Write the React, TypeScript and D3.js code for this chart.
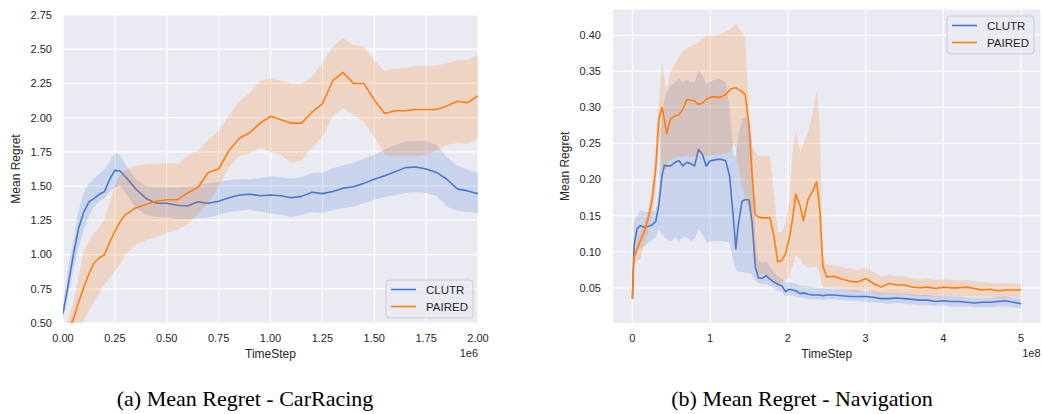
import * as d3 from "d3";

const CLUTR_COLOR = "#4878d0";
const PAIRED_COLOR = "#ff7f0e";
const BG = "#eaeaf2";
const INK = "#262626";
const SANS = "'Liberation Sans', Arial, sans-serif";
const SERIF = "'Liberation Serif', 'Times New Roman', serif";

// ---- (a) CarRacing, timestep in 1e6 ----
const carT = [0, 0.025, 0.05, 0.075, 0.1, 0.125, 0.15, 0.175, 0.2, 0.225, 0.25, 0.275, 0.3,
  0.35, 0.4, 0.45, 0.5, 0.55, 0.6, 0.65, 0.7, 0.75, 0.8, 0.85, 0.9, 0.95, 1.0, 1.05, 1.1, 1.15,
  1.2, 1.25, 1.3, 1.35, 1.4, 1.45, 1.5, 1.55, 1.6, 1.65, 1.7, 1.75, 1.8, 1.85, 1.9, 1.95, 2.0];

const carClutrMean = [0.57, 0.78, 1.0, 1.19, 1.31, 1.385, 1.41, 1.44, 1.46, 1.55, 1.615, 1.61, 1.57,
  1.48, 1.41, 1.375, 1.375, 1.36, 1.355, 1.385, 1.375, 1.39, 1.415, 1.435, 1.44, 1.43, 1.435, 1.43, 1.415, 1.425,
  1.455, 1.445, 1.46, 1.485, 1.495, 1.52, 1.55, 1.575, 1.605, 1.635, 1.64, 1.625, 1.6, 1.55, 1.48, 1.465, 1.445];
const carClutrLo = [0.53, 0.7, 0.89, 1.05, 1.18, 1.28, 1.35, 1.39, 1.41, 1.46, 1.49, 1.5, 1.45,
  1.34, 1.29, 1.275, 1.27, 1.26, 1.26, 1.265, 1.27, 1.29, 1.31, 1.32, 1.325, 1.315, 1.3, 1.29, 1.275, 1.29,
  1.31, 1.305, 1.325, 1.34, 1.35, 1.375, 1.4, 1.42, 1.435, 1.45, 1.455, 1.45, 1.43, 1.35, 1.32, 1.31, 1.3];
const carClutrHi = [0.62, 0.9, 1.1, 1.32, 1.45, 1.52, 1.56, 1.59, 1.62, 1.68, 1.74, 1.73, 1.66,
  1.55, 1.5, 1.49, 1.49, 1.49, 1.495, 1.51, 1.52, 1.53, 1.545, 1.55, 1.55, 1.56, 1.57, 1.565, 1.555, 1.565,
  1.595, 1.6, 1.63, 1.65, 1.67, 1.7, 1.73, 1.77, 1.8, 1.825, 1.83, 1.83, 1.8, 1.71, 1.65, 1.62, 1.595];

const carPairedMean = [0.38, 0.44, 0.53, 0.65, 0.76, 0.86, 0.94, 0.975, 1.0, 1.09, 1.17, 1.24, 1.29,
  1.34, 1.365, 1.39, 1.4, 1.4, 1.45, 1.49, 1.6, 1.625, 1.76, 1.85, 1.89, 1.96, 2.01, 1.985, 1.96, 1.96,
  2.04, 2.1, 2.27, 2.33, 2.25, 2.25, 2.13, 2.03, 2.05, 2.05, 2.06, 2.06, 2.06, 2.085, 2.12, 2.11, 2.16];
const carPairedLo = [0.3, 0.33, 0.4, 0.46, 0.52, 0.59, 0.66, 0.72, 0.78, 0.83, 0.88, 0.93, 1.0,
  1.07, 1.1, 1.13, 1.16, 1.18, 1.22, 1.3, 1.375, 1.5, 1.64, 1.72, 1.74, 1.78, 1.75, 1.73, 1.67, 1.69,
  1.78, 1.86, 2.01, 2.07, 2.02, 1.97, 1.86, 1.73, 1.72, 1.72, 1.72, 1.73, 1.76, 1.8, 1.815, 1.81, 1.85];
const carPairedHi = [0.45, 0.52, 0.65, 0.84, 1.03, 1.1, 1.16, 1.2, 1.25, 1.38, 1.51, 1.58, 1.62,
  1.65, 1.66, 1.665, 1.67, 1.66, 1.72, 1.76, 1.84, 1.9, 2.02, 2.12, 2.18, 2.27, 2.29, 2.27, 2.25, 2.25,
  2.3, 2.4, 2.52, 2.58, 2.53, 2.52, 2.42, 2.34, 2.36, 2.36, 2.38, 2.38, 2.38, 2.4, 2.42, 2.42, 2.465];

const carXTicks = [0, 0.25, 0.5, 0.75, 1.0, 1.25, 1.5, 1.75, 2.0];
const carYTicks = [0.5, 0.75, 1.0, 1.25, 1.5, 1.75, 2.0, 2.25, 2.5, 2.75];

// ---- (b) Navigation, timestep in 1e8 ----
const navT = [0, 0.02, 0.06, 0.1, 0.15, 0.2, 0.25, 0.3, 0.34, 0.38,
  0.41, 0.44, 0.49, 0.55, 0.6, 0.65, 0.7, 0.75, 0.8, 0.85,
  0.9, 0.95, 1.0, 1.05, 1.1, 1.15, 1.2, 1.25, 1.3, 1.33,
  1.36, 1.41, 1.45, 1.5, 1.54, 1.58, 1.62, 1.67, 1.72, 1.77,
  1.82, 1.87, 1.92, 1.97, 2.02, 2.06, 2.1, 2.16, 2.2, 2.26,
  2.32, 2.37, 2.41, 2.45, 2.5, 2.6, 2.7, 2.8, 2.9, 3.0,
  3.1, 3.2, 3.3, 3.4, 3.5, 3.6, 3.7, 3.8, 3.9, 4.0,
  4.1, 4.2, 4.3, 4.4, 4.5, 4.6, 4.7, 4.8, 4.9, 5.0];

const navClutrMean = [0.035, 0.108, 0.132, 0.136, 0.134, 0.135, 0.137, 0.142, 0.165, 0.205,
  0.22, 0.219, 0.219, 0.224, 0.226, 0.219, 0.224, 0.222, 0.219, 0.242,
  0.235, 0.219, 0.226, 0.227, 0.228, 0.228, 0.226, 0.205, 0.145, 0.104,
  0.136, 0.17, 0.172, 0.172, 0.14, 0.08, 0.064, 0.063, 0.067, 0.062,
  0.058, 0.055, 0.053, 0.045, 0.048, 0.047, 0.046, 0.042, 0.043, 0.041,
  0.04, 0.04, 0.04, 0.039, 0.04, 0.04, 0.039, 0.038, 0.038, 0.038,
  0.037, 0.035, 0.035, 0.036, 0.035, 0.034, 0.033, 0.033, 0.031, 0.032,
  0.031, 0.031, 0.03, 0.029, 0.03, 0.03, 0.031, 0.032, 0.03, 0.028];
const navClutrLo = [0.03, 0.08, 0.1, 0.105, 0.108, 0.112, 0.116, 0.12, 0.13, 0.125,
  0.12, 0.118, 0.114, 0.12, 0.115, 0.12, 0.12, 0.115, 0.118, 0.13,
  0.125, 0.113, 0.114, 0.115, 0.115, 0.115, 0.114, 0.113, 0.085, 0.076,
  0.072, 0.072, 0.071, 0.071, 0.068, 0.06, 0.057, 0.055, 0.055, 0.053,
  0.05, 0.047, 0.045, 0.038, 0.04, 0.039, 0.038, 0.036, 0.036, 0.035,
  0.034, 0.034, 0.034, 0.033, 0.034, 0.034, 0.033, 0.032, 0.032, 0.031,
  0.03, 0.029, 0.028, 0.029, 0.028, 0.027, 0.026, 0.026, 0.025, 0.025,
  0.024, 0.024, 0.024, 0.023, 0.023, 0.023, 0.024, 0.024, 0.023, 0.021];
const navClutrHi = [0.045, 0.14, 0.15, 0.157, 0.156, 0.155, 0.156, 0.157, 0.18, 0.29,
  0.31, 0.32, 0.33, 0.335, 0.34, 0.335, 0.338, 0.335, 0.335, 0.352,
  0.345, 0.332, 0.336, 0.338, 0.34, 0.338, 0.336, 0.3, 0.235, 0.232,
  0.26, 0.284, 0.286, 0.286, 0.25, 0.12, 0.088, 0.085, 0.087, 0.08,
  0.072, 0.066, 0.063, 0.057, 0.058, 0.057, 0.056, 0.053, 0.053, 0.052,
  0.051, 0.05, 0.05, 0.049, 0.049, 0.049, 0.048, 0.047, 0.046, 0.046,
  0.045, 0.043, 0.043, 0.043, 0.042, 0.041, 0.04, 0.04, 0.038, 0.039,
  0.038, 0.038, 0.037, 0.036, 0.036, 0.036, 0.037, 0.038, 0.036, 0.035];

const navPairedMean = [0.035, 0.093, 0.104, 0.115, 0.127, 0.145, 0.17, 0.215, 0.284, 0.3,
  0.284, 0.263, 0.284, 0.288, 0.29, 0.298, 0.311, 0.31, 0.309, 0.304,
  0.306, 0.311, 0.314, 0.315, 0.314, 0.315, 0.318, 0.324, 0.327, 0.327,
  0.325, 0.322, 0.318, 0.274, 0.205, 0.152, 0.148, 0.147, 0.147, 0.147,
  0.122, 0.086, 0.088, 0.097, 0.12, 0.145, 0.18, 0.163, 0.143, 0.173,
  0.184, 0.197, 0.16, 0.08, 0.065, 0.066, 0.062, 0.059, 0.058, 0.063,
  0.056, 0.051, 0.056, 0.054, 0.054, 0.051, 0.05, 0.051, 0.049, 0.051,
  0.05, 0.05, 0.051, 0.049, 0.047, 0.048, 0.046, 0.047, 0.047, 0.047];
const navPairedLo = [0.025, 0.08, 0.088, 0.09, 0.11, 0.125, 0.15, 0.185, 0.26, 0.217,
  0.205, 0.22, 0.228, 0.23, 0.232, 0.232, 0.233, 0.232, 0.232, 0.235,
  0.235, 0.233, 0.233, 0.234, 0.235, 0.235, 0.236, 0.238, 0.25, 0.245,
  0.22, 0.19, 0.175, 0.16, 0.12, 0.08, 0.07, 0.068, 0.068, 0.065,
  0.06, 0.056, 0.057, 0.06, 0.065, 0.08, 0.095, 0.09, 0.082, 0.078,
  0.078, 0.08, 0.07, 0.05, 0.05, 0.05, 0.048, 0.046, 0.044, 0.048,
  0.043, 0.04, 0.042, 0.041, 0.041, 0.039, 0.038, 0.039, 0.037, 0.039,
  0.038, 0.038, 0.039, 0.038, 0.037, 0.038, 0.036, 0.037, 0.037, 0.036];
const navPairedHi = [0.045, 0.1, 0.115, 0.127, 0.14, 0.155, 0.19, 0.25, 0.307, 0.364,
  0.34, 0.325, 0.35, 0.36, 0.37, 0.378, 0.382, 0.385, 0.387, 0.39,
  0.395, 0.4, 0.4, 0.399, 0.401, 0.402, 0.405, 0.408, 0.412, 0.416,
  0.41, 0.405, 0.395, 0.3, 0.246, 0.238, 0.233, 0.233, 0.233, 0.232,
  0.183, 0.127, 0.127, 0.14, 0.173, 0.238, 0.266, 0.238, 0.25, 0.266,
  0.293, 0.325, 0.274, 0.09, 0.082, 0.081, 0.079, 0.076, 0.075, 0.078,
  0.072, 0.066, 0.068, 0.066, 0.066, 0.063, 0.062, 0.063, 0.061, 0.062,
  0.061, 0.06, 0.061, 0.059, 0.058, 0.057, 0.056, 0.057, 0.056, 0.056];

const navXTicks = [0, 1, 2, 3, 4, 5];
const navYTicks = [0.05, 0.1, 0.15, 0.2, 0.25, 0.3, 0.35, 0.4];

type Series = { name: string; color: string; mean: number[]; lo: number[]; hi: number[] };
type Box = { left: number; top: number; right: number; bottom: number };

type PanelProps = {
  id: string;
  box: Box;
  t: number[];
  series: Series[];
  xDomain: [number, number];
  yDomain: [number, number];
  xTicks: number[];
  yTicks: number[];
  xFmt: (v: number) => string;
  yFmt: (v: number) => string;
  offset: string;
  yLabelX: number;
  tickGap: number;
  legend: { x: number; y: number };
};

function Legend({ x, y, series }: { x: number; y: number; series: Series[] }) {
  return (
    <g transform={`translate(${x},${y})`}>
      <rect width={87} height={38} rx={3} fill={BG} fillOpacity={0.8} stroke="#cccccc" strokeWidth={1} />
      {series.map((s, i) => (
        <g key={s.name} transform={`translate(0,${9.5 + i * 17})`}>
          <line x1={5} x2={30} y1={0} y2={0} stroke={s.color} strokeWidth={1.6} />
          <text x={40} y={0} dy="0.35em" fontFamily={SANS} fontSize={11.5} fill={INK}>{s.name}</text>
        </g>
      ))}
    </g>
  );
}

function Panel(p: PanelProps) {
  const { box } = p;
  const x = d3.scaleLinear().domain(p.xDomain).range([box.left, box.right]);
  const y = d3.scaleLinear().domain(p.yDomain).range([box.bottom, box.top]);
  const idx = d3.range(p.t.length);
  const clipId = `clip-${p.id}`;
  const midY = (box.top + box.bottom) / 2;
  return (
    <g>
      <defs>
        <clipPath id={clipId}>
          <rect x={box.left} y={box.top} width={box.right - box.left} height={box.bottom - box.top} />
        </clipPath>
      </defs>
      <rect x={box.left} y={box.top} width={box.right - box.left} height={box.bottom - box.top} fill={BG} />
      {p.xTicks.map((v) => (
        <line key={`gx${v}`} x1={x(v)} x2={x(v)} y1={box.top} y2={box.bottom} stroke="#fff" strokeWidth={1.2} />
      ))}
      {p.yTicks.map((v) => (
        <line key={`gy${v}`} x1={box.left} x2={box.right} y1={y(v)} y2={y(v)} stroke="#fff" strokeWidth={1.2} />
      ))}
      <g clipPath={`url(#${clipId})`}>
        {p.series.map((s) => {
          const line = d3.line<number>().x((i) => x(p.t[i])).y((i) => y(s.mean[i]));
          const area = d3
            .area<number>()
            .x((i) => x(p.t[i]))
            .y0((i) => y(s.lo[i]))
            .y1((i) => y(s.hi[i]));
          return (
            <g key={s.name}>
              <path d={line(idx) ?? ""} fill="none" stroke={s.color} strokeWidth={1.6} strokeLinejoin="round" />
              <path d={area(idx) ?? ""} fill={s.color} fillOpacity={0.2} stroke="none" />
            </g>
          );
        })}
      </g>
      {p.xTicks.map((v) => (
        <text key={`tx${v}`} x={x(v)} y={box.bottom + 19} textAnchor="middle" fontFamily={SANS} fontSize={11} fill={INK}>
          {p.xFmt(v)}
        </text>
      ))}
      {p.yTicks.map((v) => (
        <text key={`ty${v}`} x={box.left - p.tickGap} y={y(v)} dy="0.35em" textAnchor="end" fontFamily={SANS} fontSize={11} fill={INK}>
          {p.yFmt(v)}
        </text>
      ))}
      <text x={(box.left + box.right) / 2} y={box.bottom + 35} textAnchor="middle" fontFamily={SANS} fontSize={12} fill={INK}>
        TimeStep
      </text>
      <text x={box.right} y={box.bottom + 34} textAnchor="end" fontFamily={SANS} fontSize={11} fill={INK}>
        {p.offset}
      </text>
      <text
        transform={`translate(${p.yLabelX},${midY}) rotate(-90)`}
        textAnchor="middle"
        dy="0.35em"
        fontFamily={SANS}
        fontSize={12}
        fill={INK}
      >
        Mean Regret
      </text>
      <Legend x={p.legend.x} y={p.legend.y} series={p.series} />
    </g>
  );
}

export default function App() {
  const carSeries: Series[] = [
    { name: "CLUTR", color: CLUTR_COLOR, mean: carClutrMean, lo: carClutrLo, hi: carClutrHi },
    { name: "PAIRED", color: PAIRED_COLOR, mean: carPairedMean, lo: carPairedLo, hi: carPairedHi },
  ];
  const navSeries: Series[] = [
    { name: "CLUTR", color: CLUTR_COLOR, mean: navClutrMean, lo: navClutrLo, hi: navClutrHi },
    { name: "PAIRED", color: PAIRED_COLOR, mean: navPairedMean, lo: navPairedLo, hi: navPairedHi },
  ];

  // matplotlib-style 5% margins for the navigation panel
  const navVals = navSeries.flatMap((s) => [...s.lo, ...s.hi, ...s.mean]);
  const [nMin, nMax] = d3.extent(navVals) as [number, number];
  const nPad = (nMax - nMin) * 0.05;
  const tMin = d3.min(navT) as number;
  const tMax = d3.max(navT) as number;
  const tPad = (tMax - tMin) * 0.05;

  const f2 = d3.format(".2f");

  return (
    <div>
      <svg width={1042} height={414} style={{ position: "absolute", left: 0, top: 0, background: "#fff" }}>
        <Panel
          id="car"
          box={{ left: 63, top: 15, right: 478, bottom: 323 }}
          t={carT}
          series={carSeries}
          xDomain={[0, 2]}
          yDomain={[0.5, 2.75]}
          xTicks={carXTicks}
          yTicks={carYTicks}
          xFmt={f2}
          yFmt={f2}
          offset="1e6"
          yLabelX={16}
          tickGap={11}
          legend={{ x: 386, y: 280 }}
        />
        <Panel
          id="nav"
          box={{ left: 613, top: 9.5, right: 1040.5, bottom: 323 }}
          t={navT}
          series={navSeries}
          xDomain={[tMin - tPad, tMax + tPad]}
          yDomain={[nMin - nPad, nMax + nPad]}
          xTicks={navXTicks}
          yTicks={navYTicks}
          xFmt={d3.format("d")}
          yFmt={f2}
          offset="1e8"
          yLabelX={565}
          tickGap={12}
          legend={{ x: 947, y: 16 }}
        />
        <text x={245} y={406} textAnchor="middle" fontFamily={SERIF} fontSize={22} fill="#000">
          (a) Mean Regret - CarRacing
        </text>
        <text x={802} y={406} textAnchor="middle" fontFamily={SERIF} fontSize={22} fill="#000">
          (b) Mean Regret - Navigation
        </text>
      </svg>
    </div>
  );
}
